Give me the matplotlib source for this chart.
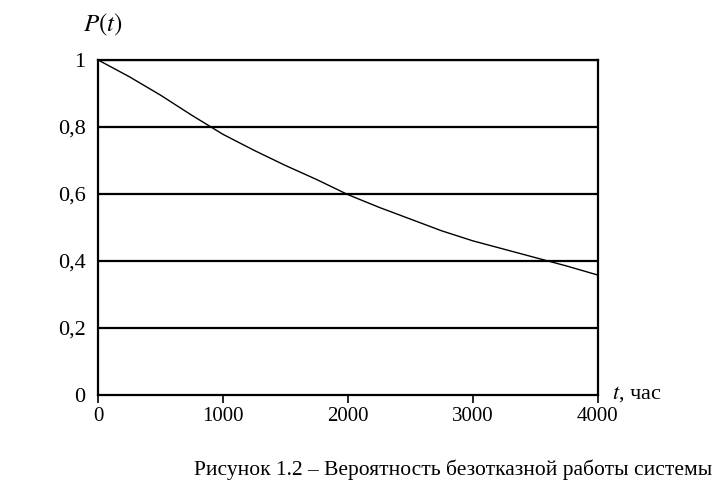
import matplotlib.pyplot as plt
from matplotlib.ticker import FuncFormatter

t_hours = [0, 250, 500, 750, 1000, 1250, 1500, 1750, 2000, 2250, 2500,
           2750, 3000, 3250, 3500, 3750, 4000]
p_values = [1.0, 0.95, 0.895, 0.835, 0.778, 0.73, 0.685, 0.643, 0.598, 0.56,
            0.525, 0.49, 0.46, 0.435, 0.41, 0.385, 0.358]
x_ticks = [0, 1000, 2000, 3000, 4000]
y_ticks = [0, 0.2, 0.4, 0.6, 0.8, 1.0]

plt.rcParams['font.family'] = ['Liberation Serif', 'DejaVu Serif']
plt.rcParams['mathtext.fontset'] = 'stix'

fig = plt.figure(figsize=(7.15, 4.87), dpi=100)
ax = fig.add_axes([0.137, 0.189, 0.699, 0.688])

for y in y_ticks[1:]:
    ax.axhline(y, color='black', linewidth=1.6, zorder=1)
ax.plot(t_hours, p_values, color='black', linewidth=1.0, zorder=2)

ax.set_xlim(0, 4000)
ax.set_ylim(0, 1)
ax.set_xticks(x_ticks)
ax.set_yticks(y_ticks)
ax.yaxis.set_major_formatter(FuncFormatter(
    lambda v, pos: '1' if v == 1 else ('0' if v == 0 else f'{v:.1f}'.replace('.', ','))))

for side in ['left', 'right', 'bottom', 'top']:
    ax.spines[side].set_color('black')
    ax.spines[side].set_linewidth(1.6)
ax.tick_params(axis='x', direction='out', length=6, width=1.2, labelsize=15, pad=3)
ax.tick_params(axis='y', length=0, labelsize=16, pad=9)

fig.text(0.116, 0.948, '$P(t)$', fontsize=18, ha='left', va='center')
fig.text(0.856, 0.19, '$t$, час', fontsize=16, ha='left', va='center')
fig.text(0.996, 0.035, 'Рисунок 1.2 – Вероятность безотказной работы системы',
         fontsize=15.5, ha='right', va='center')

fig.savefig('out.png', dpi=100)
